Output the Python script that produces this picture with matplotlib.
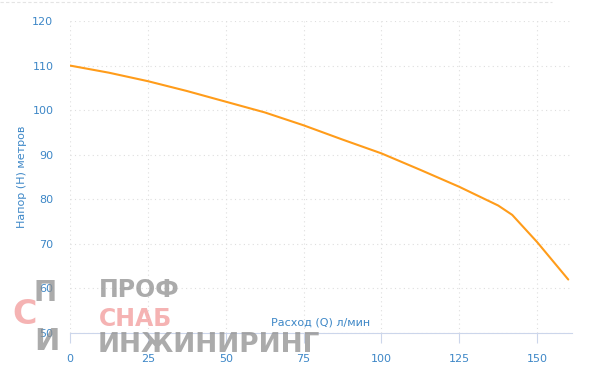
import matplotlib
matplotlib.use('Agg')
import matplotlib.pyplot as plt
from matplotlib.lines import Line2D

# pump curve: flow Q (l/min) vs head H (m)
flow = [0, 12.5, 25, 37.5, 50, 62.5, 75, 87.5, 100, 112.5, 125, 137.5, 142, 150, 160]
head = [110, 108.4, 106.5, 104.3, 101.9, 99.5, 96.6, 93.4, 90.3, 86.6, 82.8, 78.6, 76.5, 70.4, 62]
xticks = [0, 25, 50, 75, 100, 125, 150]
yticks = [50, 60, 70, 80, 90, 100, 110, 120]

label_col = '#3d87c7'
axis_col = '#ccd6eb'
grid_col = '#dedede'

fig = plt.figure(figsize=(6, 3.75), dpi=100)
ax = fig.add_axes([70 / 600, 1 - 333 / 375, 502 / 600, 312 / 375])

ax.plot(flow, head, color='#ff9c1a', lw=1.5, solid_capstyle='round', zorder=3)

ax.set_xlim(0, 161.2)
ax.set_ylim(50, 120)
ax.set_xticks(xticks)
ax.set_yticks(yticks)
ax.grid(True, color=grid_col, linestyle=(0, (1, 3)), lw=0.8)
ax.set_axisbelow(True)

for s in ['top', 'right', 'left']:
    ax.spines[s].set_visible(False)
ax.spines['bottom'].set_color(axis_col)
ax.spines['bottom'].set_linewidth(0.8)

ax.tick_params(axis='x', colors=axis_col, length=7, width=0.8, labelcolor=label_col,
               labelsize=8, pad=8)
ax.tick_params(axis='y', length=0, labelcolor=label_col, labelsize=8, pad=12)

ax.text(0.5, 0.035, 'Расход (Q) л/мин', transform=ax.transAxes, ha='center',
        va='center', color=label_col, fontsize=8)
fig.text(22 / 600, 1 - 177 / 375, 'Напор (H) метров', rotation=90, ha='center',
         va='center', color=label_col, fontsize=8)

# dashed border at the top of the container
fig.add_artist(Line2D([0, 0.92], [1 - 2 / 375, 1 - 2 / 375], color='#e4e4e4',
                      lw=0.8, linestyle=(0, (3, 2))))

# watermark logo
gray = '#8f8f8f'
pink = '#f29a9a'
wm = dict(alpha=0.75, fontweight='bold', va='center', ha='left', zorder=10)
fig.text(99 / 600, 1 - 290 / 375, 'ПРОФ', color=gray, fontsize=17, **wm)
fig.text(99 / 600, 1 - 319 / 375, 'СНАБ', color=pink, fontsize=17, **wm)
fig.text(98 / 600, 1 - 345 / 375, 'ИНЖИНИРИНГ', color=gray, fontsize=19, **wm)
fig.text(34 / 600, 1 - 293 / 375, 'П', color=gray, fontsize=20, **wm)
fig.text(12 / 600, 1 - 315 / 375, 'С', color=pink, fontsize=24, **wm)
fig.text(34 / 600, 1 - 342 / 375, 'И', color=gray, fontsize=22, **wm)

fig.savefig('out.png', dpi=100)
